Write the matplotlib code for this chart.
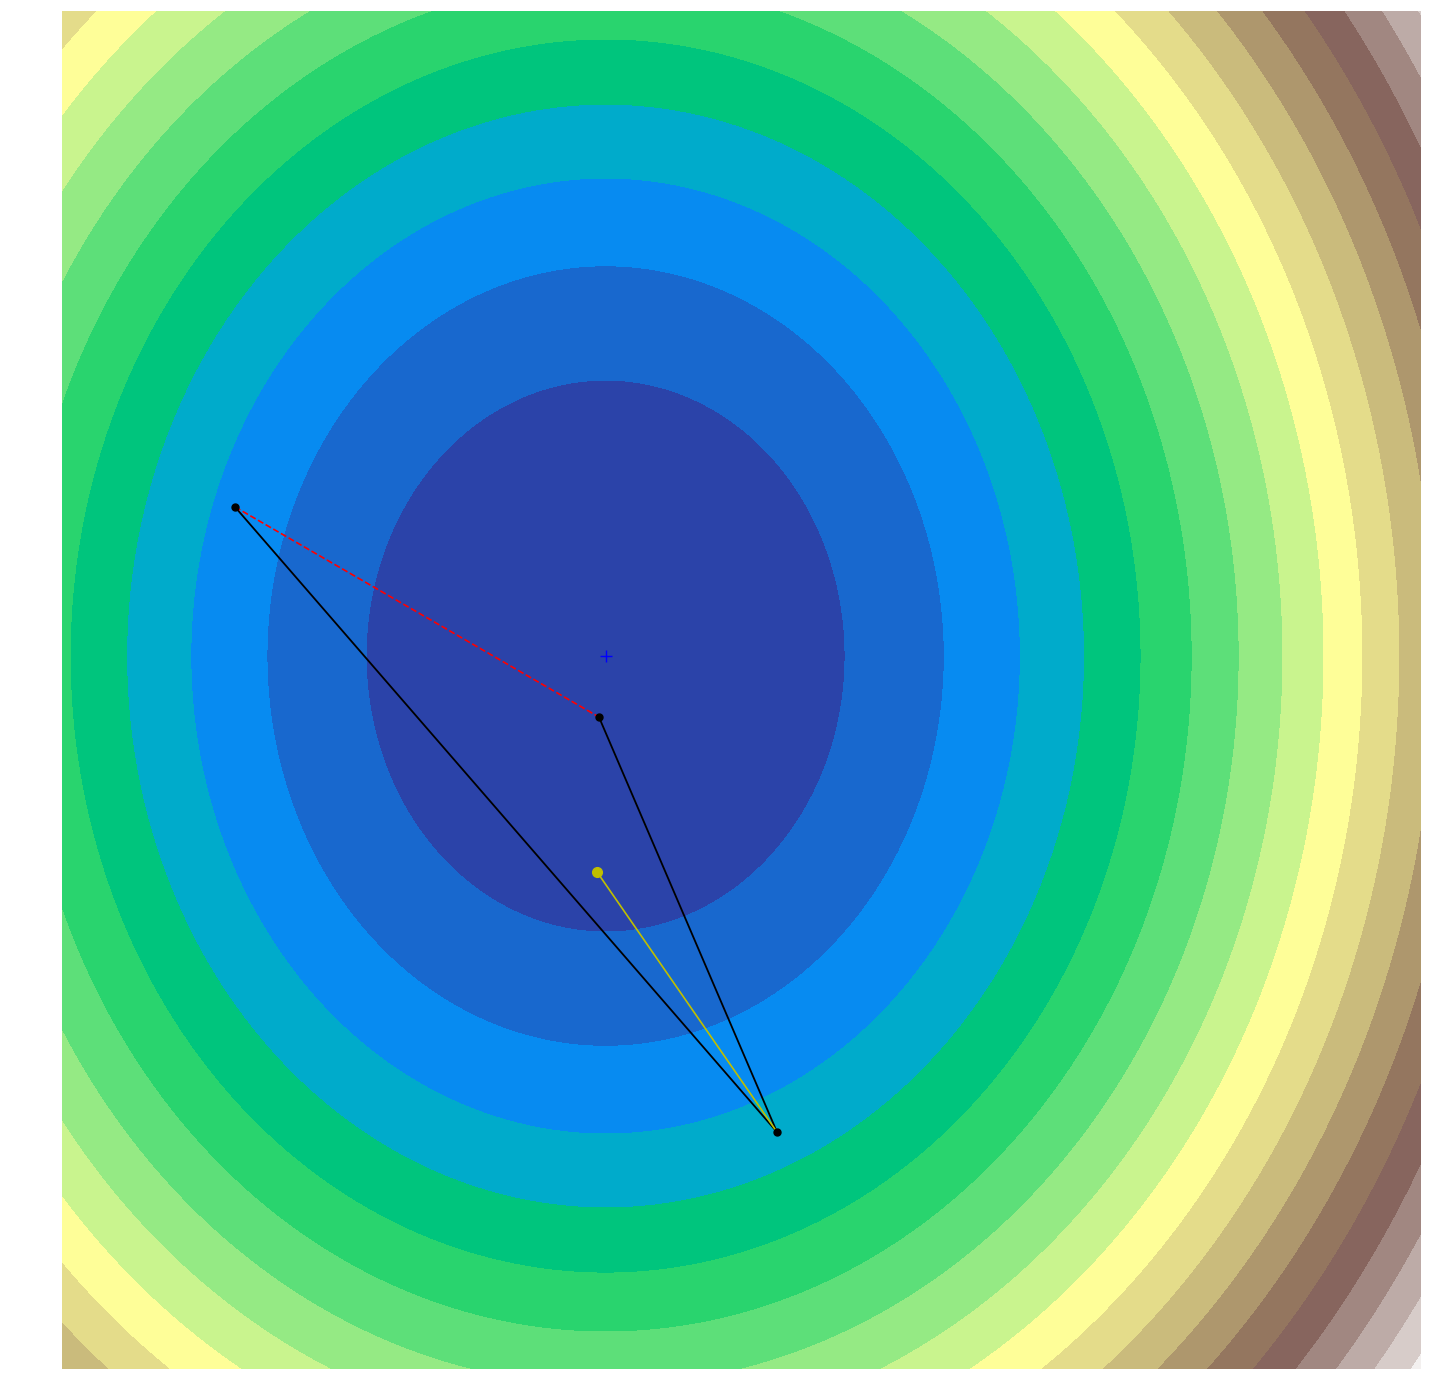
import numpy as np
import matplotlib
matplotlib.use("Agg")
import matplotlib.pyplot as plt

# Quadratic bowl (axis-aligned ellipses), in axes-fraction coordinates
center = [0.400, 0.525]
semi_axes = [0.1762, 0.2032]
levels = list(range(0, 20))

# Simplex vertices (Nelder-Mead style illustration)
simplex_x = [0.1273, 0.3951, 0.5261]
simplex_y = [0.6348, 0.4801, 0.1745]
# New point
new_x = [0.3937]
new_y = [0.3660]

fig = plt.figure(figsize=(14.5, 13.94), dpi=100)
ax = fig.add_axes([62 / 1450, 25 / 1394, 1359 / 1450, 1358 / 1394])

gx = np.linspace(0, 1, 300)
gy = np.linspace(0, 1, 300)
X, Y = np.meshgrid(gx, gy)
Z = ((X - center[0]) / semi_axes[0]) ** 2 + ((Y - center[1]) / semi_axes[1]) ** 2
ax.contourf(X, Y, Z, levels=levels, cmap=plt.cm.terrain)

# Simplex edges
ax.plot([simplex_x[0], simplex_x[2]], [simplex_y[0], simplex_y[2]], 'k-', lw=1.3)
ax.plot([simplex_x[1], simplex_x[2]], [simplex_y[1], simplex_y[2]], 'k-', lw=1.3)
ax.plot([simplex_x[0], simplex_x[1]], [simplex_y[0], simplex_y[1]], 'r--', lw=1.2)
# New point line
ax.plot([new_x[0], simplex_x[2]], [new_y[0], simplex_y[2]], '-', color='y', lw=1.2)
ax.plot(new_x, new_y, 'o', color='y', markersize=7)
ax.plot(simplex_x, simplex_y, 'ko', markersize=5)
# Minimum
ax.plot([center[0]], [center[1]], 'b+', markersize=8)

ax.set_xlim(0, 1)
ax.set_ylim(0, 1)
ax.axis('off')

fig.savefig('out.png', dpi=100)
